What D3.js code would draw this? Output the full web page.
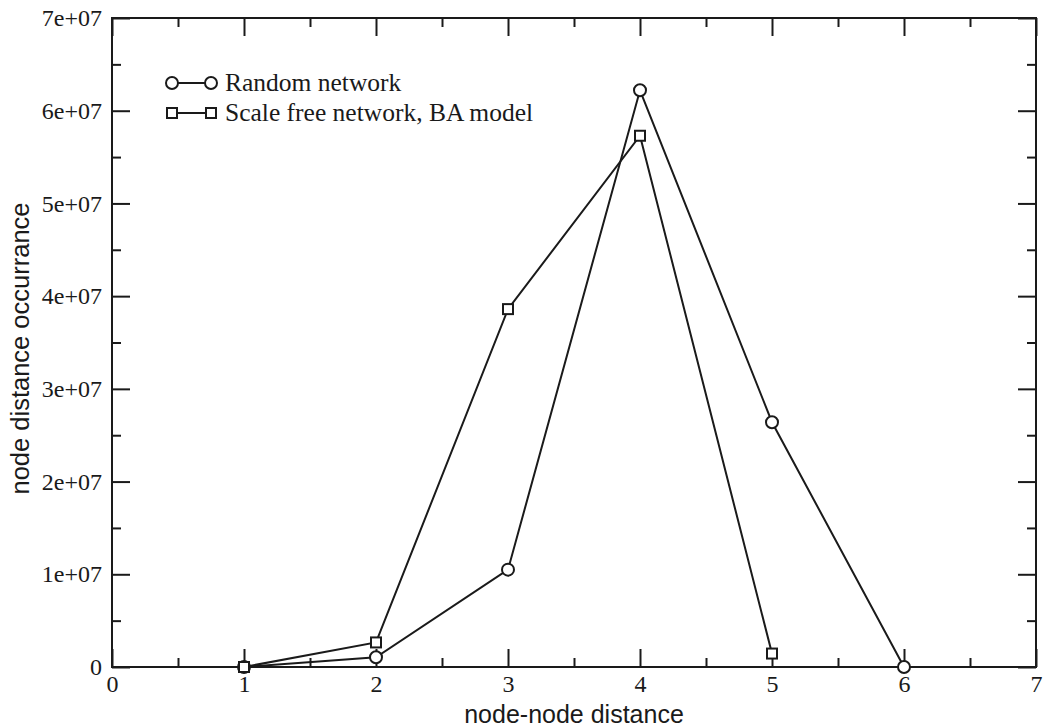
<!DOCTYPE html>
<html><head><meta charset="utf-8">
<script src="https://cdn.jsdelivr.net/npm/d3@7"></script>
<style>body{margin:0;background:#fff}</style>
</head><body>
<svg id="c" width="1046" height="728"></svg>
<script>
const distances = [1, 2, 3, 4, 5, 6];
const randomNetwork = [0, 1.05e6, 1.05e7, 6.22e7, 2.64e7, 0];
const scaleFreeDist = [1, 2, 3, 4, 5];
const scaleFreeNetwork = [0, 2.65e6, 3.86e7, 5.73e7, 1.45e6];
const xTicks = [0, 1, 2, 3, 4, 5, 6, 7];
const yTicks = [0, 1e7, 2e7, 3e7, 4e7, 5e7, 6e7, 7e7];
const yTickLabels = ["0", "1e+07", "2e+07", "3e+07", "4e+07", "5e+07", "6e+07", "7e+07"];
const seriesNames = ["Random network", "Scale free network, BA model"];

const svg = d3.select("#c");
const L = 112, R = 1036, T = 18, B = 667;
const x = d3.scaleLinear().domain([0, 7]).range([L, R]);
const y = d3.scaleLinear().domain([0, 7e7]).range([B, T]);
const col = "#1a1a1a";
const serif = "'Liberation Serif','Times New Roman',serif";
const sans = "'Liberation Sans',Arial,sans-serif";

function styleAxis(g) {
  g.select(".domain").remove();
  g.selectAll("line").attr("stroke", col).attr("stroke-width", 2);
  g.selectAll("text").attr("fill", col).style("font-family", serif).style("font-size", "24px");
}
const minorX = d3.range(0.5, 7, 1);
const minorY = d3.range(0.5e7, 7e7, 1e7);

// bottom
svg.append("g").attr("transform", `translate(0,${B})`)
  .call(d3.axisBottom(x).tickValues(xTicks).tickFormat(d3.format("d")).tickSizeInner(-18).tickSizeOuter(0).tickPadding(8))
  .call(styleAxis);
svg.append("g").attr("transform", `translate(0,${B})`)
  .call(d3.axisBottom(x).tickValues(minorX).tickFormat("").tickSizeInner(-9).tickSizeOuter(0))
  .call(styleAxis);
// top
svg.append("g").attr("transform", `translate(0,${T})`)
  .call(d3.axisTop(x).tickValues(xTicks).tickFormat("").tickSizeInner(-18).tickSizeOuter(0))
  .call(styleAxis);
svg.append("g").attr("transform", `translate(0,${T})`)
  .call(d3.axisTop(x).tickValues(minorX).tickFormat("").tickSizeInner(-9).tickSizeOuter(0))
  .call(styleAxis);
// left
svg.append("g").attr("transform", `translate(${L},0)`)
  .call(d3.axisLeft(y).tickValues(yTicks).tickFormat((d, i) => yTickLabels[i]).tickSizeInner(-18).tickSizeOuter(0).tickPadding(10))
  .call(styleAxis);
svg.append("g").attr("transform", `translate(${L},0)`)
  .call(d3.axisLeft(y).tickValues(minorY).tickFormat("").tickSizeInner(-9).tickSizeOuter(0))
  .call(styleAxis);
// right
svg.append("g").attr("transform", `translate(${R},0)`)
  .call(d3.axisRight(y).tickValues(yTicks).tickFormat("").tickSizeInner(-18).tickSizeOuter(0))
  .call(styleAxis);
svg.append("g").attr("transform", `translate(${R},0)`)
  .call(d3.axisRight(y).tickValues(minorY).tickFormat("").tickSizeInner(-9).tickSizeOuter(0))
  .call(styleAxis);

// frame
svg.append("rect").attr("x", L).attr("y", T).attr("width", R - L).attr("height", B - T)
  .attr("fill", "none").attr("stroke", col).attr("stroke-width", 2);

// series
const line = d3.line().x(d => x(d[0])).y(d => y(d[1]));
const rData = distances.map((d, i) => [d, randomNetwork[i]]);
const sData = scaleFreeDist.map((d, i) => [d, scaleFreeNetwork[i]]);
svg.append("path").datum(rData).attr("d", line).attr("fill", "none").attr("stroke", col).attr("stroke-width", 2);
svg.append("path").datum(sData).attr("d", line).attr("fill", "none").attr("stroke", col).attr("stroke-width", 2);
svg.selectAll(".rc").data(rData).enter().append("circle")
  .attr("cx", d => x(d[0])).attr("cy", d => y(d[1])).attr("r", 6)
  .attr("fill", "#fff").attr("stroke", col).attr("stroke-width", 2);
svg.selectAll(".sq").data(sData).enter().append("rect")
  .attr("x", d => x(d[0]) - 5).attr("y", d => y(d[1]) - 5).attr("width", 10).attr("height", 10)
  .attr("fill", "#fff").attr("stroke", col).attr("stroke-width", 2);

// legend
const lg = svg.append("g");
const ly = [83, 113];
[0, 1].forEach(i => {
  lg.append("line").attr("x1", 172).attr("x2", 211).attr("y1", ly[i]).attr("y2", ly[i]).attr("stroke", col).attr("stroke-width", 2);
  [172, 211].forEach(cx => {
    if (i === 0) lg.append("circle").attr("cx", cx).attr("cy", ly[i]).attr("r", 6).attr("fill", "#fff").attr("stroke", col).attr("stroke-width", 2);
    else lg.append("rect").attr("x", cx - 5).attr("y", ly[i] - 5).attr("width", 10).attr("height", 10).attr("fill", "#fff").attr("stroke", col).attr("stroke-width", 2);
  });
  lg.append("text").attr("x", 225).attr("y", ly[i] + 8).text(seriesNames[i])
    .attr("fill", col).style("font-family", serif).style("font-size", "25.5px");
});

// axis titles
svg.append("text").attr("x", (L + R) / 2).attr("y", 723).attr("text-anchor", "middle")
  .text("node-node distance").attr("fill", col).style("font-family", sans).style("font-size", "25px");
svg.append("text").attr("transform", `translate(29,${(T + B) / 2 + 6}) rotate(-90)`).attr("text-anchor", "middle")
  .text("node distance occurrance").attr("fill", col).style("font-family", sans).style("font-size", "25.5px");
</script>
</body></html>
